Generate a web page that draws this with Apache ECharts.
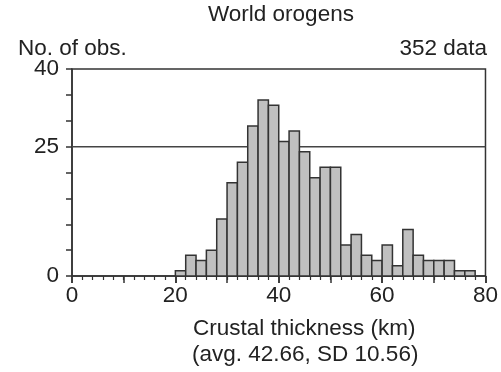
<!DOCTYPE html>
<html><head><meta charset="utf-8">
<script src="https://cdn.jsdelivr.net/npm/echarts@6/dist/echarts.min.js"></script>
<style>html,body{margin:0;padding:0;background:#fff}#c{width:501px;height:372px}</style>
</head><body><div id="c"></div>
<script>
const binStarts = [20,22,24,26,28,30,32,34,36,38,40,42,44,46,48,50,52,54,56,58,60,62,64,66,68,70,72,74,76];
const binWidth = 2;
const counts = [1,4,3,5,11,18,22,29,34,33,26,28,24,19,21,21,6,8,4,3,6,2,9,4,3,3,3,1,1];
const yTickLabels = [0,25,40];
const refLine = 25;
const titleText = 'World orogens';
const yName = 'No. of obs.';
const nText = '352 data';
const xName1 = 'Crustal thickness (km)';
const xName2 = '(avg. 42.66, SD 10.56)';

const font = 'Liberation Sans, Arial, sans-serif';
const fs = 22.5;
const ink = '#222';
const data = binStarts.map((s,i)=>[s, s+binWidth, counts[i]]);
const chart = echarts.init(document.getElementById('c'));
chart.setOption({
  animation:false,
  grid:{left:72, right:14, top:69, bottom:96, show:true, borderColor:'#333', borderWidth:1.5, backgroundColor:'transparent'},
  xAxis:[{
    type:'value', min:0, max:80, interval:20, position:'bottom',
    axisLine:{show:true, lineStyle:{color:'#333', width:1.5}},
    axisTick:{show:true, length:7, lineStyle:{color:'#333', width:1.5}},
    minorTick:{show:true, splitNumber:10, length:4, lineStyle:{color:'#333', width:1.2}},
    axisLabel:{show:true, margin:8, fontSize:fs, color:ink, fontFamily:font},
    splitLine:{show:false}
  },{
    type:'value', min:0, max:80, interval:10, position:'bottom',
    axisLine:{show:false},
    axisTick:{show:true, length:7, lineStyle:{color:'#333', width:1.5}},
    axisLabel:{show:false}, splitLine:{show:false}
  }],
  yAxis:{
    type:'value', min:0, max:40, interval:5,
    axisLine:{show:true, lineStyle:{color:'#333', width:1.5}},
    axisTick:{show:true, length:6, lineStyle:{color:'#333', width:1.5}},
    axisLabel:{margin:13, fontSize:fs, color:ink, fontFamily:font,
      formatter:v=> yTickLabels.includes(v) ? String(v) : ''},
    splitLine:{show:false}
  },
  series:[{
    type:'line', xAxisIndex:0, data:[[0,refLine],[80,refLine]], symbol:'none', z:1,
    lineStyle:{color:'#444', width:1.5}, silent:true
  },{
    type:'custom', xAxisIndex:0, z:3, data:data,
    renderItem:(params, api)=>{
      const p0 = api.coord([api.value(0), api.value(2)]);
      const p1 = api.coord([api.value(1), 0]);
      return {type:'rect', shape:{x:p0[0], y:p0[1], width:p1[0]-p0[0], height:p1[1]-p0[1]},
        style:{fill:'#c0c0c0', stroke:'#333', lineWidth:1.5}};
    }
  }],
  graphic:[
    {type:'text', left:208, top:3, style:{text:titleText, fontSize:fs, fill:ink, fontFamily:font}},
    {type:'text', left:18, top:37, style:{text:yName, fontSize:fs, fill:ink, fontFamily:font}},
    {type:'text', right:14, top:37, style:{text:nText, fontSize:fs, fill:ink, fontFamily:font}},
    {type:'text', left:193, top:317, style:{text:xName1, fontSize:fs, fill:ink, fontFamily:font}},
    {type:'text', left:192, top:343, style:{text:xName2, fontSize:fs, fill:ink, fontFamily:font}}
  ]
});
</script></body></html>
